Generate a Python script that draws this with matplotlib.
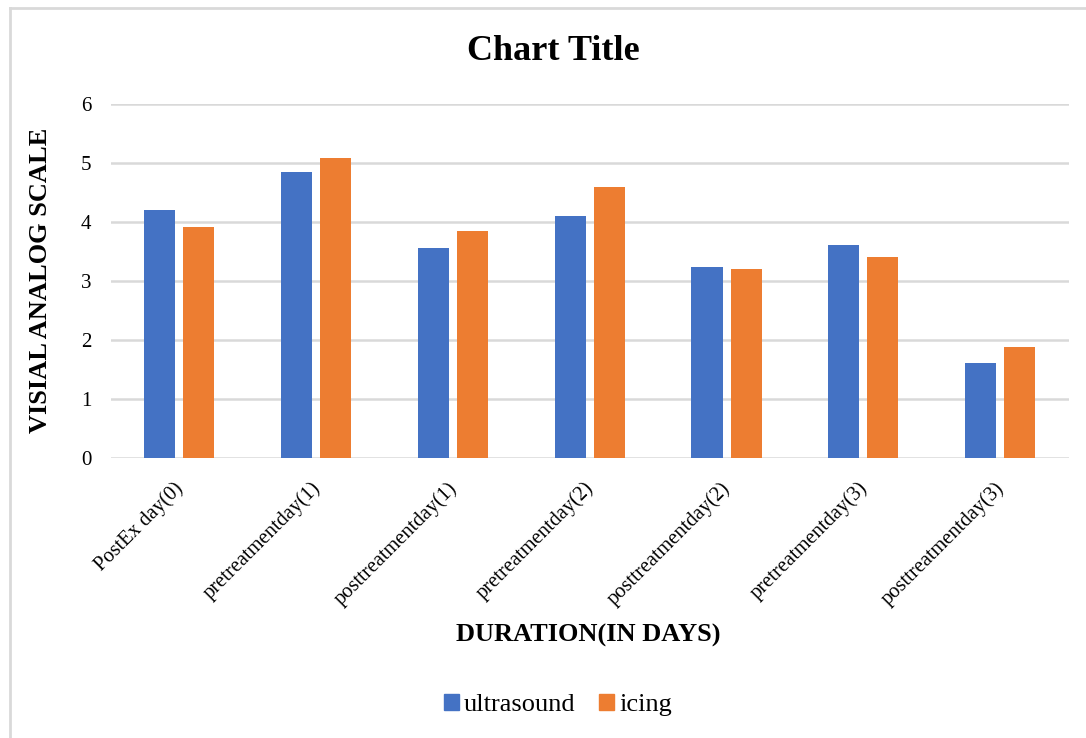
import matplotlib
matplotlib.use("Agg")
import matplotlib.pyplot as plt
import matplotlib.transforms as mtransforms
from matplotlib.lines import Line2D
import numpy as np

plt.rcParams['font.family'] = ['Liberation Serif', 'DejaVu Serif']

categories = ['PostEx day(0)', 'pretreatmentday(1)', 'posttreatmentday(1)',
              'pretreatmentday(2)', 'posttreatmentday(2)', 'pretreatmentday(3)',
              'posttreatmentday(3)']
ultrasound = [4.20, 4.84, 3.56, 4.10, 3.24, 3.60, 1.60]
icing = [3.92, 5.08, 3.84, 4.60, 3.20, 3.40, 1.88]
y_ticks = [0, 1, 2, 3, 4, 5, 6]

BLUE = '#4472C4'
ORANGE = '#ED7D31'
GRID = '#d9d9d9'

W, H = 1086, 738
fig = plt.figure(figsize=(W / 100, H / 100), dpi=100)

# axes placed in pixel coords of the reference
left, right, top, bottom = 111, 1068.5, 104, 457.7
ax = fig.add_axes([left / W, 1 - bottom / H, (right - left) / W, (bottom - top) / H])

x = np.arange(len(categories))
bw = 0.227
ax.bar(x - 0.143, ultrasound, bw, color=BLUE, label='ultrasound', zorder=3)
ax.bar(x + 0.143, icing, bw, color=ORANGE, label='icing', zorder=3)

ax.set_xlim(-0.5, len(categories) - 0.5)
ax.set_ylim(0, 6)
ax.set_yticks(y_ticks)
ax.yaxis.grid(True, color=GRID, linewidth=1.8, zorder=0)
ax.set_axisbelow(True)
for s in ax.spines.values():
    s.set_visible(False)
ax.tick_params(axis='both', length=0, labelsize=15)
ax.tick_params(axis='y', pad=14)
ax.set_xticks(x)
ax.set_xticklabels(categories, rotation=45, ha='right', rotation_mode='anchor',
                   fontsize=14.8)
ax.tick_params(axis='x', pad=15)
# nudge the rotated labels a bit to the left
shift = mtransforms.ScaledTranslation(-6 / 100, 0, fig.dpi_scale_trans)
for lab in ax.get_xticklabels():
    lab.set_transform(lab.get_transform() + shift)

ax.set_ylabel('VISIAL ANALOG SCALE', fontsize=19, fontweight='bold', labelpad=21)
fig.text(588 / W, 1 - 635 / H, 'DURATION(IN DAYS)', fontsize=19,
         fontweight='bold', ha='center', va='center')
fig.text(553 / W, 1 - 51 / H, 'Chart Title', fontsize=26, fontweight='bold',
         ha='center', va='center')

handles = [plt.Rectangle((0, 0), 1, 1, color=BLUE), plt.Rectangle((0, 0), 1, 1, color=ORANGE)]
fig.legend(handles, ['ultrasound', 'icing'], loc='center', ncol=2,
           bbox_to_anchor=(558 / W, 1 - 705 / H), frameon=False, fontsize=19,
           handlelength=0.55, handleheight=0.55, handletextpad=0.2, columnspacing=0.9)

# chart frame (light gray border)
fig.add_artist(Line2D([9.5 / W, 1], [1 - 7.5 / H] * 2, color=GRID, linewidth=2))
fig.add_artist(Line2D([9.5 / W] * 2, [0, 1 - 7.5 / H], color=GRID, linewidth=2))

fig.savefig('out.png', dpi=100)
